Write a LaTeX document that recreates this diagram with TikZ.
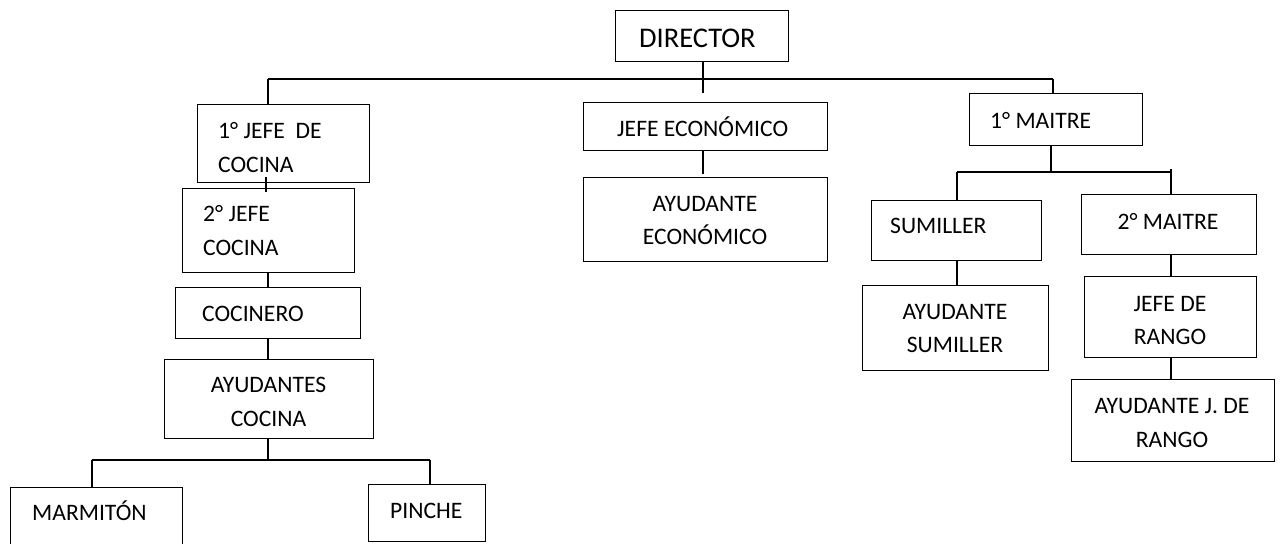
\documentclass[tikz,border=0pt]{standalone}
\usepackage{fontspec}
\setmainfont{Carlito}
\tikzset{
  box/.style={draw, line width=1.4pt, rectangle, inner sep=0pt, anchor=north west},
  txt/.style={inner sep=0pt, font=\fontsize{23.6}{28}\selectfont},
  bigtxt/.style={inner sep=0pt, font=\fontsize{28.5}{34}\selectfont},
  link/.style={line width=1.4pt}
}
\newcommand{\obox}[5]{\node[box, minimum width={#4pt-#2pt}, minimum height={#5pt-#3pt}] (#1) at (#2,#3) {};}
\begin{document}
\begin{tikzpicture}[x=1pt,y=-1pt]
\useasboundingbox (0,0) rectangle (1281,543);
% boxes
\obox{dir}{615}{10}{788}{61}
\obox{jA}{197}{104}{369}{182}
\obox{jB}{182}{188}{354}{272}
\obox{coc}{175}{287}{360}{338}
\obox{ayc}{164}{359}{373}{438}
\obox{marm}{10}{487}{182}{552}
\obox{pin}{368}{484}{485}{541}
\obox{je}{583}{102}{827}{150}
\obox{ae}{583}{177}{827}{261}
\obox{mA}{969}{93}{1142}{145}
\obox{sum}{871}{200}{1041}{260}
\obox{asum}{862}{285}{1048}{370}
\obox{mB}{1081}{194}{1256}{254}
\obox{jr}{1084}{276}{1256}{357}
\obox{ajr}{1071}{379}{1274}{461}
% texts
\node[bigtxt, anchor=base west] (t-dir) at (639,48) {DIRECTOR};
\node[txt, anchor=base west] (t-jA1) at (218,138) {1° JEFE\ \ DE};
\node[txt, anchor=base west] (t-jA2) at (218,172) {COCINA};
\node[txt, anchor=base west] (t-jB1) at (203,221) {2° JEFE};
\node[txt, anchor=base west] (t-jB2) at (203,255) {COCINA};
\node[txt, anchor=base west] (t-coc) at (202,321) {COCINERO};
\node[txt, anchor=base] (t-ayc1) at (268.5,392) {AYUDANTES};
\node[txt, anchor=base] (t-ayc2) at (268.5,426) {COCINA};
\node[txt, anchor=base west] (t-marm) at (32,520) {MARMITÓN};
\node[txt, anchor=base west] (t-pin) at (390,518) {PINCHE};
\node[txt, anchor=base west] (t-je) at (617,136) {JEFE ECONÓMICO};
\node[txt, anchor=base] (t-ae1) at (705,211) {AYUDANTE};
\node[txt, anchor=base] (t-ae2) at (705,244) {ECONÓMICO};
\node[txt, anchor=base west] (t-mA) at (990,128) {1° MAITRE};
\node[txt, anchor=base west] (t-sum) at (890,233) {SUMILLER};
\node[txt, anchor=base] (t-mB) at (1168,229) {2° MAITRE};
\node[txt, anchor=base] (t-asum1) at (955,319) {AYUDANTE};
\node[txt, anchor=base] (t-asum2) at (955,352) {SUMILLER};
\node[txt, anchor=base] (t-jr1) at (1170,311) {JEFE DE};
\node[txt, anchor=base] (t-jr2) at (1170,344) {RANGO};
\node[txt, anchor=base] (t-ajr1) at (1172,413) {AYUDANTE J. DE};
\node[txt, anchor=base] (t-ajr2) at (1172,447) {RANGO};
% bus coordinates
\coordinate (busL) at (268,79);
\coordinate (busR) at (1053,79);
\coordinate (dirC) at (703,79);
\coordinate (dirEnd) at (703,93);
\coordinate (kx) at (266,0);
\coordinate (bus2) at (268,460);
\coordinate (bus2L) at (92,460);
\coordinate (bus2R) at (430,460);
\coordinate (mx) at (1051,0);
\coordinate (bus3L) at (957,172);
\coordinate (bus3R) at (1171,172);
\coordinate (bus3Rt) at (1171,169);
% connectors
\draw[link] (dir.south -| dirC) -- (dirEnd);
\draw[link] (busL) -- (busR);
\draw[link] (busL) -- (busL |- jA.north);
\draw[link] (busR) -- (busR |- mA.north);
\draw[link] ([yshift=6pt]jA.south -| kx) -- ([yshift=-4pt]jB.north -| kx);
\draw[link] (jB.south -| busL) -- (coc.north -| busL);
\draw[link] (coc.south -| busL) -- (ayc.north -| busL);
\draw[link] (ayc.south -| busL) -- (bus2);
\draw[link] (bus2L) -- (bus2R);
\draw[link] (bus2L) -- (bus2L |- marm.north);
\draw[link] (bus2R) -- (bus2R |- pin.north);
\draw[link] (je.south -| dirC) -- ([yshift=3pt]ae.north -| dirC);
\draw[link] (mA.south -| mx) -- (mx |- bus3L);
\draw[link] (bus3L) -- (bus3R);
\draw[link] (bus3Rt) -- (bus3Rt |- mB.north);
\draw[link] (bus3L) -- (bus3L |- sum.north);
\draw[link] (sum.south -| bus3L) -- (asum.north -| bus3L);
\draw[link] (mB.south -| bus3R) -- (jr.north -| bus3R);
\draw[link] (jr.south -| bus3R) -- (ajr.north -| bus3R);
\end{tikzpicture}
\end{document}
